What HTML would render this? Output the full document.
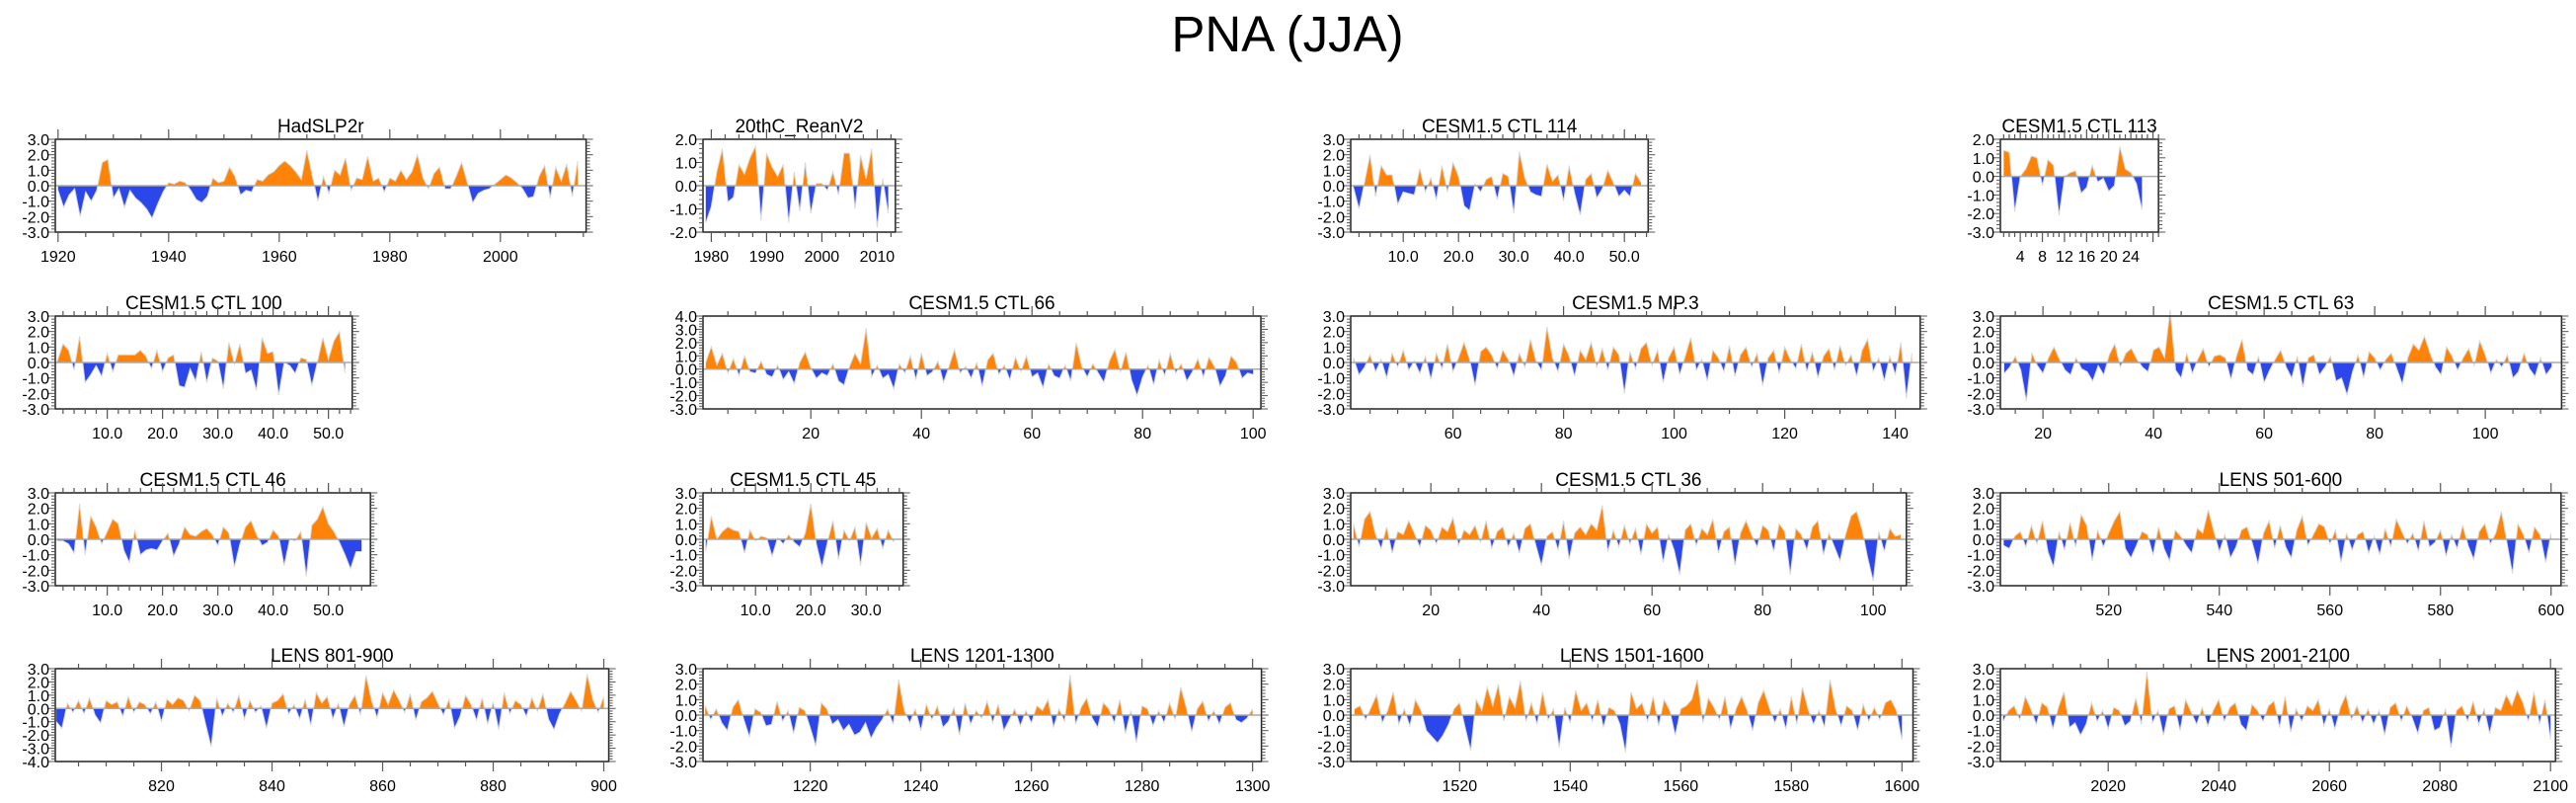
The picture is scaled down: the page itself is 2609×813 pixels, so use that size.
<!DOCTYPE html>
<html><head><meta charset="utf-8">
<style>
html,body{margin:0;padding:0;background:#fff;}
svg{display:block;font-family:"Liberation Sans",sans-serif;}
</style></head>
<body>
<svg id="chart" width="2609" height="813" viewBox="0 0 2609 813" xmlns="http://www.w3.org/2000/svg">
<text x="1304" y="52" text-anchor="middle" font-size="51">PNA (JJA)</text>
</svg>
<script>
const hadslp2r = [-0.3,-1.4,-0.6,-0.2,-2.0,-0.4,-1.0,-0.3,1.5,1.7,-0.8,-0.2,-1.4,-0.3,-0.8,-1.1,-1.5,-2.1,-1.2,-0.4,0.2,0.1,0.3,0.2,-0.3,-0.9,-1.1,-0.7,0.5,0.2,0.3,1.2,0.6,-0.6,-0.3,-0.4,0.4,0.3,0.7,0.9,1.3,1.6,1.3,0.9,0.4,2.3,0.6,-1.0,0.6,-0.5,1.0,0.7,1.8,-0.3,0.5,0.4,1.9,0.3,0.5,-0.4,0.5,0.3,1.0,0.4,0.9,2.0,0.5,-0.2,0.8,1.2,-0.2,-0.2,0.6,1.5,0.2,-1.1,-0.5,-0.3,-0.2,0.1,0.4,0.7,0.5,0.2,-0.2,-0.8,-0.7,0.6,1.3,-0.8,1.2,0.3,1.4,-0.7,1.6];
const reanV2 = [-1.6,-0.9,0.6,1.6,-0.7,-0.5,0.9,0.5,1.2,1.7,-1.5,1.4,0.8,0.4,0.9,-1.6,0.6,-1.1,1.0,-1.2,0.1,0.1,-0.2,0.6,-0.4,1.4,1.4,-1.0,1.3,0.3,1.6,-1.8,0.3,-1.2];
const ctl114 = [-0.1,-1.5,0.2,2.0,-0.7,1.3,0.7,0.7,-1.2,-0.4,-0.5,-0.6,1.1,-0.4,0.5,-0.9,1.3,-0.4,1.5,0.6,-1.3,-1.6,0.1,-0.4,0.4,0.6,-0.9,0.8,0.6,-1.8,2.2,0.5,-0.4,-0.6,-0.7,1.4,0.3,0.7,-1.0,1.3,-0.5,-1.9,0.4,0.8,-0.8,-0.2,1.0,0.2,-0.7,-0.3,-0.7,0.8,0.2];
const ctl113 = [1.4,1.3,-1.9,0.0,0.4,1.1,1.0,-0.5,0.9,0.6,-2.1,0.0,0.2,0.3,-0.9,-0.6,0.6,-0.3,-0.1,-0.8,-0.5,1.6,0.4,0.2,-0.4,-1.8];
const ctl100 = [0.1,1.2,0.8,-0.5,1.7,-1.3,-0.8,-0.2,-0.9,0.6,-0.6,0.5,0.5,0.5,0.5,0.8,0.4,-0.4,0.8,-0.6,0.3,0.5,-1.5,-1.6,-0.4,-1.2,0.7,-1.3,0.3,0.1,-1.7,1.3,-0.1,1.2,-0.7,-0.5,-1.8,1.6,0.6,0.7,-2.1,0.0,-0.2,-0.7,0.3,0.2,-1.5,0.0,1.6,0.2,1.4,2.0,-0.7];
const ctl66 = [0.5,1.7,0.3,1.2,-0.3,0.8,-0.5,1.0,-0.2,-0.3,0.6,-0.4,-0.6,0.3,-0.8,-0.2,-1.1,0.5,1.3,0.1,-0.7,-0.3,-0.5,0.4,-0.9,-1.2,0.2,1.2,0.4,3.1,-0.6,0.3,-0.7,-0.4,-1.5,0.4,-0.3,1.0,-0.8,1.2,-0.5,-0.2,0.6,-1.0,0.2,1.5,-0.3,0.2,-0.7,0.5,-1.3,0.7,1.2,-0.4,0.3,-0.8,0.9,-0.2,1.0,-0.6,-0.3,-1.4,0.4,-0.5,-0.7,0.3,-0.9,2.0,0.2,-0.6,0.4,-0.3,-1.0,0.6,1.5,-0.2,1.3,-0.8,-2.0,-0.6,0.3,-1.2,0.7,-0.5,1.2,-0.3,0.4,-0.9,-0.2,0.8,-0.6,0.9,0.2,-1.3,-0.5,1.0,0.5,-0.7,-0.3,-0.4];
const mp3 = [0.3,-0.8,-0.3,0.5,-0.6,0.2,-1.0,0.6,-0.3,0.8,-0.5,0.1,-0.7,0.4,-1.1,0.6,-0.4,1.2,-0.6,0.3,1.3,0.2,-1.5,0.7,1.0,0.5,-0.4,0.8,0.2,-0.9,0.6,-0.3,1.5,0.1,-0.5,2.3,0.3,-0.6,1.2,0.4,-0.9,0.8,0.2,1.3,-0.3,0.9,-0.5,1.0,0.5,-2.0,0.7,-0.4,0.9,1.3,-0.2,0.8,-1.3,0.3,1.0,-0.8,0.4,1.6,-0.5,0.2,-1.2,0.8,0.3,-0.6,1.1,-0.9,0.5,1.0,-0.3,0.6,-1.5,0.3,0.8,-0.7,1.0,0.2,-0.4,1.2,-0.6,0.7,-1.0,0.4,0.9,-0.5,1.1,-0.2,0.5,-0.9,0.8,1.5,-0.6,0.3,-1.2,0.4,-0.8,1.3,-2.3,0.6];
const ctl63 = [-0.7,-0.3,0.4,-0.5,-2.5,0.6,-0.2,-0.7,0.3,1.0,0.2,-0.5,-0.8,0.3,-0.4,-0.6,-1.2,-0.2,-0.8,0.5,1.2,-0.3,0.6,0.9,0.2,-0.3,-0.6,0.8,1.0,0.3,3.4,-0.5,-1.0,0.6,-0.7,0.2,0.9,-0.3,0.4,0.5,0.3,-1.1,0.4,1.5,-0.5,-0.8,0.4,-1.3,-0.5,0.2,0.8,-0.3,-1.0,0.4,-1.6,0.3,0.5,-0.8,-0.3,0.4,-1.2,-1.0,-2.1,-0.6,0.5,-1.0,0.7,0.3,-0.5,0.2,0.6,-0.4,-1.4,0.3,1.2,0.8,1.7,0.6,-0.3,-0.8,1.0,0.4,-0.5,0.3,0.9,-0.2,1.4,0.5,-0.7,0.2,-0.3,0.5,-1.0,-0.6,0.6,-0.4,-0.9,0.3,-0.8,-0.3];
const ctl46 = [-0.1,-0.1,-0.3,-0.9,2.3,-1.0,1.5,0.8,-0.3,0.5,1.3,1.0,-0.7,-1.5,0.6,-1.0,-0.7,-0.6,-0.7,-0.1,0.4,-1.1,-0.3,0.8,0.3,0.2,0.5,0.7,0.3,-0.4,0.8,0.4,-1.8,-0.3,0.8,1.2,0.3,-0.4,-0.2,0.6,0.2,-1.7,0.0,-0.1,0.5,-2.4,0.9,1.3,2.1,1.0,0.5,-0.2,-1.0,-1.9,-0.8,-0.8];
const ctl45 = [-0.8,1.5,0.0,0.5,0.8,0.6,0.5,-0.9,0.6,-0.1,0.2,0.1,-1.1,0.1,-0.3,0.3,-0.2,-0.5,0.4,2.3,-0.3,-1.8,-0.2,1.2,-1.3,0.6,-0.1,0.8,-1.7,1.1,0.1,0.7,-0.6,0.6,-0.2];
const ctl36 = [1.0,-0.5,1.3,1.8,0.3,-0.6,0.8,-0.9,0.5,0.3,1.2,0.4,-0.5,0.9,0.6,-0.3,0.8,0.5,1.4,-0.4,0.6,0.3,0.9,-0.2,1.2,-0.6,0.5,0.8,-0.5,0.4,-0.9,0.7,1.0,-0.4,-1.7,0.2,0.5,-0.7,1.2,-1.3,0.4,0.8,0.3,1.0,0.6,2.2,-0.8,0.6,-0.5,0.9,-0.3,0.7,-1.0,1.0,0.4,0.8,-1.5,0.3,-0.7,-2.3,0.6,1.0,-0.4,0.7,0.3,1.3,-0.9,0.5,0.8,-1.7,0.4,1.2,0.3,-0.5,0.9,0.6,-0.8,1.0,0.5,-2.3,0.7,0.3,-0.7,0.8,1.2,-1.0,0.4,-0.5,-1.4,0.3,1.5,1.8,0.6,-1.2,-2.7,0.5,-0.8,0.7,0.2,0.3];
const lens501 = [-0.4,-0.6,0.2,0.5,-0.5,0.9,-0.3,1.2,-0.8,-1.8,0.5,-0.7,1.1,-0.5,1.6,0.9,-1.4,0.6,-0.5,0.4,1.2,1.8,-0.6,-1.2,-0.4,0.5,0.3,-1.0,0.8,-0.6,-1.4,0.6,0.2,-0.4,-0.9,0.7,0.4,1.9,0.5,-0.8,0.3,-1.2,-0.5,0.6,0.8,-0.3,-1.6,0.4,1.2,-0.6,0.9,-0.5,-1.2,0.6,1.5,-0.4,0.3,1.0,0.8,-0.3,0.6,-1.5,0.4,-0.7,0.3,0.5,-0.9,0.2,-1.0,0.7,-0.5,1.3,0.5,-0.3,0.4,-0.8,1.2,-0.5,-0.2,0.6,-1.1,0.3,-0.6,0.9,-0.4,-1.3,0.5,1.0,-0.3,0.4,1.8,-0.2,-2.2,1.0,0.3,-0.9,0.8,0.3,-1.5,0.4];
const lens801 = [-1.0,-1.5,0.4,-0.3,0.6,-0.4,0.8,-0.5,-1.1,0.6,0.3,0.5,-0.6,0.9,-0.3,0.5,0.3,-0.4,0.5,-1.0,0.7,0.3,0.8,0.6,-0.2,1.0,0.6,-1.2,-2.9,0.8,-0.6,0.4,-0.3,1.0,-0.8,0.6,-0.3,0.2,-1.5,0.4,0.6,1.1,-0.4,0.3,-0.8,0.7,-1.3,1.2,0.4,0.9,-0.8,0.4,-1.4,0.3,1.0,-0.5,2.5,0.6,-0.7,1.2,0.3,1.4,0.6,-0.3,1.1,-0.9,0.5,0.8,1.3,0.4,-0.5,0.7,-1.5,-0.6,1.0,0.3,-0.9,0.8,-1.2,0.5,-1.6,1.2,-0.4,0.6,0.3,-0.6,0.8,-0.2,1.1,-0.8,-1.6,-0.4,0.4,1.3,0.6,-0.2,2.6,0.7,-0.3,0.9];
const lens1201 = [0.6,-0.3,0.4,-0.5,-1.0,0.5,1.0,-0.3,-1.4,0.4,0.2,-0.7,-0.6,0.9,-0.4,0.3,-1.2,0.5,0.3,-0.8,-2.0,0.8,0.4,-0.6,-0.3,-1.0,-0.6,-1.3,-1.1,-0.5,-1.5,-0.8,-0.3,0.4,-0.6,2.3,0.3,-0.5,0.4,-1.0,0.7,-0.3,0.6,-0.8,-0.4,0.5,-1.3,0.8,-0.6,0.3,-0.2,0.9,-0.5,0.7,-1.0,-0.3,0.4,-0.7,0.3,-0.5,0.6,0.3,1.0,-0.8,0.4,-0.4,2.6,-0.6,0.5,1.1,-0.2,-0.8,0.8,0.4,-0.5,1.0,-1.2,0.3,-1.8,0.6,0.4,-0.7,0.3,-0.5,0.8,-0.3,1.8,0.5,-1.1,0.4,0.9,-0.4,0.3,-0.6,0.5,0.8,-0.3,-0.5,-0.2,0.4];
const lens1501 = [0.4,0.6,-0.3,0.5,1.3,-0.5,0.3,1.5,-0.6,0.4,-0.7,1.0,0.3,-1.0,-1.4,-1.8,-1.3,-0.6,0.4,0.8,-0.8,-2.3,1.0,0.3,1.8,0.6,2.0,-0.4,1.2,0.5,2.2,-0.4,0.8,-0.6,1.5,-0.3,0.4,-2.1,0.5,-0.5,1.6,0.3,0.8,-0.4,1.0,-0.8,0.5,0.3,-0.6,-2.4,1.5,0.4,0.8,-0.4,1.2,-0.7,1.0,0.3,-1.3,0.4,0.6,1.0,2.3,-0.5,1.1,0.5,-0.3,1.2,-0.9,0.4,1.2,0.3,-1.0,0.8,1.6,0.5,-0.5,0.4,-0.9,1.2,-0.6,1.8,0.4,-0.6,0.3,-0.8,2.3,0.4,-0.7,0.6,0.3,-1.0,0.7,-0.4,0.5,-0.3,0.8,1.0,0.3,-1.6];
const lens2001 = [-0.4,0.3,0.6,-0.3,1.2,0.4,-0.6,0.8,0.5,-0.9,0.5,1.5,-0.8,-0.5,-1.3,-0.6,0.8,-0.4,0.3,-0.9,0.5,0.3,-0.7,-0.4,1.1,-0.6,2.8,-0.5,0.3,-1.3,0.4,0.6,-1.0,1.0,0.2,-0.6,0.5,-0.7,0.3,1.0,-0.4,0.5,0.8,-0.6,-1.0,0.7,0.3,-0.4,0.6,0.9,-0.8,1.2,-1.1,0.4,-0.4,0.6,0.3,1.0,-0.7,0.4,-0.9,0.5,1.3,-0.3,0.6,-0.5,0.4,-0.6,0.3,-1.3,0.5,0.8,-0.4,0.6,-0.2,-1.2,0.3,0.5,-1.0,-0.8,0.4,-2.1,0.3,0.6,-0.4,0.9,-0.6,0.4,-1.2,0.5,0.3,1.3,0.6,1.6,0.8,-0.4,1.5,-0.6,1.0,-1.6];

const panelTitles = ["HadSLP2r","20thC_ReanV2","CESM1.5 CTL 114","CESM1.5 CTL 113","CESM1.5 CTL 100","CESM1.5 CTL 66","CESM1.5 MP.3","CESM1.5 CTL 63","CESM1.5 CTL 46","CESM1.5 CTL 45","CESM1.5 CTL 36","LENS 501-600","LENS 801-900","LENS 1201-1300","LENS 1501-1600","LENS 2001-2100"];
const panelSeries = [hadslp2r,reanV2,ctl114,ctl113,ctl100,ctl66,mp3,ctl63,ctl46,ctl45,ctl36,lens501,lens801,lens1201,lens1501,lens2001];
const seriesStart = [1920,1979,1,1,1,1,42,13,1,1,6,501,801,1201,1501,2001];
const xMin = [1919.5,1978.5,0.5,0.4,0.6,0.5,41.5,12.3,0.6,0.5,5.5,500.4,800.8,1200.6,1500.3,2000.5];
const xMax = [2015.5,2013.3,54.3,29,54.3,101.4,144.5,113.8,57.6,36.7,106,601.8,900.9,1301.6,1602,2100.9];
const yMax = [3,2,3,2,3,4,3,3,3,3,3,3,3,3,3,3];
const yMin = [-3,-2,-3,-3,-3,-3,-3,-3,-3,-3,-3,-3,-4,-3,-3,-3];
const xTickStep = [20,10,10,4,10,20,20,20,10,10,20,20,20,20,20,20];
const xMinorStep = [5,2.5,2,1,2,5,5,5,2,2,5,5,5,5,5,5];
const xTickDecimals = [0,0,1,0,1,0,0,0,1,1,0,0,0,0,0,0];

const colLeft = [56,712,1368,2026];
const rowTop = [141,320,499,677];
const PH = 94, PX = 5.6;
const svg = document.getElementById('chart');
const NS = 'http://www.w3.org/2000/svg';
function mk(tag, attrs, parent){
  const e = document.createElementNS(NS, tag);
  for (const k in attrs) e.setAttribute(k, attrs[k]);
  parent.appendChild(e);
  return e;
}

panelSeries.forEach((vals, i) => {
  const left = colLeft[i % 4], top = rowTop[Math.floor(i / 4)];
  const W = (xMax[i] - xMin[i]) * PX;
  const sx = x => left + (x - xMin[i]) / (xMax[i] - xMin[i]) * W;
  const sy = y => top + (yMax[i] - y) / (yMax[i] - yMin[i]) * PH;
  const lastX = seriesStart[i] + vals.length - 1;
  const g = mk('g', {}, svg);
  
  

  const t = mk('text', {x: left + W / 2, y: top - 7, 'text-anchor': 'middle', 'font-size': 19}, g);
  t.textContent = panelTitles[i];
  
  

  const y0 = sy(0);
  let pts = sx(seriesStart[i]).toFixed(1) + ',' + y0.toFixed(1) + ' ';
  vals.forEach((v, k) => { pts += sx(seriesStart[i] + k).toFixed(1) + ',' + sy(v).toFixed(1) + ' '; });
  pts += sx(lastX).toFixed(1) + ',' + y0.toFixed(1);
  const cid = 'c' + i;
  const defs = mk('defs', {}, g);
  const cpA = mk('clipPath', {id: cid + 'a'}, defs);
  mk('rect', {x: left, y: top, width: W, height: y0 - top}, cpA);
  const cpB = mk('clipPath', {id: cid + 'b'}, defs);
  mk('rect', {x: left, y: y0, width: W, height: top + PH - y0}, cpB);
  const pa = mk('polygon', {points: pts, fill: '#ff8307', 'clip-path': 'url(#' + cid + 'a)'}, g);
  
  
  const pb = mk('polygon', {points: pts, fill: '#2b47ec', 'clip-path': 'url(#' + cid + 'b)'}, g);
  
  
  let lp = '';
  vals.forEach((v, k) => { lp += sx(seriesStart[i] + k).toFixed(1) + ',' + sy(v).toFixed(1) + ' '; });
  const ln = mk('polyline', {points: lp, fill: 'none', stroke: '#d8d8d8', 'stroke-width': 1}, g);
  
  
  const zl = mk('line', {x1: left, x2: left + W, y1: y0, y2: y0, stroke: '#aaa', 'stroke-width': 1.5}, g);
  
  

  const fr = mk('rect', {x: left, y: top, width: W, height: PH, fill: 'none', stroke: '#222', 'stroke-width': 1.5}, g);
  
  

  for (let yv = yMin[i]; yv <= yMax[i] + 1e-6; yv += 0.2) {
    const major = Math.abs(yv - Math.round(yv)) < 1e-6;
    const yy = sy(yv), L = major ? 7 : 4;
    mk('line', {x1: left - L, x2: left, y1: yy, y2: yy, stroke: '#555', 'stroke-width': 1}, g);
    mk('line', {x1: left + W, x2: left + W + L, y1: yy, y2: yy, stroke: '#555', 'stroke-width': 1}, g);
    if (major) {
      const yl = mk('text', {x: left - 6, y: yy + 6, 'text-anchor': 'end', 'font-size': 16}, g);
      yl.textContent = Math.round(yv).toFixed(1);
      
      
    }
  }
  const ms = xMinorStep[i];
  for (let xv = Math.ceil(xMin[i] / ms) * ms; xv <= xMax[i]; xv += ms) {
    const major = Math.abs(xv / xTickStep[i] - Math.round(xv / xTickStep[i])) < 1e-6;
    const xx = sx(xv), L = major ? 10 : 5;
    mk('line', {x1: xx, x2: xx, y1: top + PH, y2: top + PH + L, stroke: '#555', 'stroke-width': 1.2}, g);
    mk('line', {x1: xx, x2: xx, y1: top - L, y2: top, stroke: '#555', 'stroke-width': 1.2}, g);
    if (major && xv <= lastX + 1) {
      const xl = mk('text', {x: xx, y: top + PH + 30, 'text-anchor': 'middle', 'font-size': 16}, g);
      xl.textContent = xv.toFixed(xTickDecimals[i]);
      
      
    }
  }
});
</script>
</body></html>
